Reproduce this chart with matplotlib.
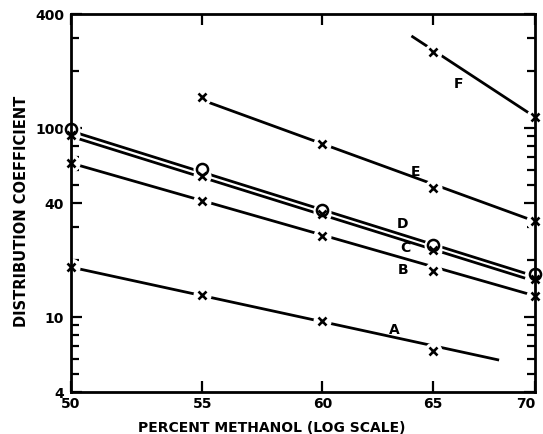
import matplotlib
matplotlib.use('Agg')
import matplotlib.pyplot as plt
from matplotlib.ticker import FixedLocator, NullFormatter, FixedFormatter

# percent methanol at which each curve was measured
pct = [50, 55, 60, 65, 70]

curve_A = [18.3, 13.0, 9.5, 6.6]
curve_B = [65, 41, 26.8, 17.5, 12.9]
curve_C = [92, 55.6, 35, 22.6, 15.8]
curve_D = [98, 60.5, 36.7, 24, 16.8]
curve_E = [145, 82, 48, 32]
curve_F = [252, 114]

pct_A = [50, 55, 60, 65]
pct_E = [55, 60, 65, 70]
pct_F = [65, 70]

# fitted straight lines (start, end) for each curve
line_A = ([50, 68.2], [18.3, 5.9])
line_B = ([50, 70], [65, 12.9])
line_C = ([50, 69.5], [90, 16.0])
line_D = ([50, 69.5], [96, 17.0])
line_E = ([55, 70], [140, 32])
line_F = ([64.0, 70], [306, 114])

# curve letters and where they sit
letters = ['A', 'B', 'C', 'D', 'E', 'F']
letter_x = [63.2, 63.6, 63.7, 63.6, 64.2, 66.2]
letter_y = [8.6, 17.9, 23.4, 31.3, 59, 172]

fig = plt.figure(figsize=(5.43, 4.35), dpi=100)
ax = fig.add_axes([0.1308, 0.0966, 0.8545, 0.869])
ax.set_xscale('log')
ax.set_yscale('log')
ax.set_xlim(50, 70)
ax.set_ylim(4, 400)

lw = 2.0
for lx, ly in [line_A, line_B, line_C, line_D, line_E, line_F]:
    ax.plot(lx, ly, color='black', lw=lw, solid_capstyle='butt', zorder=2)

series = [
    (pct_A, curve_A, 'x'),
    (pct, curve_B, 'x'),
    (pct, curve_C, 'x'),
    (pct, curve_D, 'o'),
    (pct_E, curve_E, 'x'),
    (pct_F, curve_F, 'x'),
]
# white patches make the line gaps around every marker
for xs, ys, m in series:
    ax.plot(xs, ys, 'o', ms=13, mfc='white', mec='none', zorder=2.2, clip_on=False)
for xs, ys, m in series:
    if m == 'o':
        ax.plot(xs, ys, 'o', ms=8, mfc='none', mec='black', mew=1.8,
                zorder=5, clip_on=False)
    else:
        ax.plot(xs, ys, 'x', ms=6, mec='black', mew=1.9, zorder=4, clip_on=False)

for t, x, y in zip(letters, letter_x, letter_y):
    ax.text(x, y, t, fontsize=10, fontweight='bold', ha='center', va='center')

ax.xaxis.set_major_locator(FixedLocator([50, 55, 60, 65, 70]))
ax.xaxis.set_major_formatter(FixedFormatter(['50', '55', '60', '65', '70']))
ax.xaxis.set_minor_locator(FixedLocator([]))
ax.yaxis.set_major_locator(FixedLocator([4, 10, 40, 100, 400]))
ax.yaxis.set_major_formatter(FixedFormatter(['4', '10', '40', '100', '400']))
ax.yaxis.set_minor_locator(FixedLocator([5, 6, 7, 8, 9, 20, 30, 50, 60, 70, 80, 90, 200, 300]))
ax.yaxis.set_minor_formatter(NullFormatter())

ax.tick_params(which='both', direction='in', top=True, right=True, width=1.6,
               labelsize=10, pad=3)
ax.tick_params(which='major', length=8)
ax.tick_params(which='minor', length=6)
ax.tick_params(axis='y', pad=5)
for lab in ax.get_xticklabels() + ax.get_yticklabels():
    lab.set_fontweight('bold')
ax.get_xticklabels()[-1].set_horizontalalignment('right')
for sp in ax.spines.values():
    sp.set_linewidth(2)

ax.set_xlabel('PERCENT METHANOL (LOG SCALE)', fontsize=10, fontweight='bold')
ax.xaxis.set_label_coords(0.433, -0.075)
ax.set_ylabel('DISTRIBUTION COEFFICIENT', fontsize=10.5, fontweight='bold')
ax.yaxis.set_label_coords(-0.09, 0.48)

fig.savefig('out.png', dpi=100)
